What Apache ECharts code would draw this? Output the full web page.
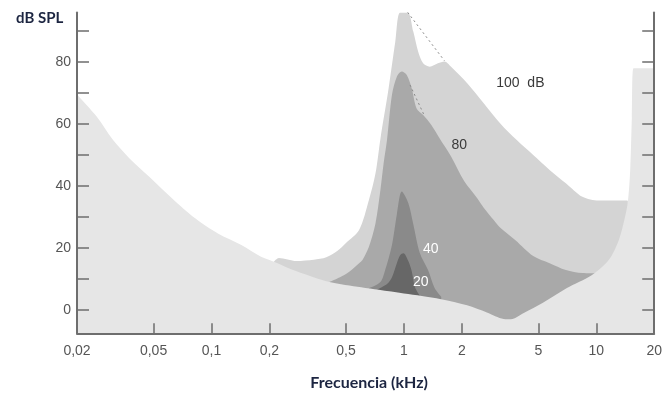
<!DOCTYPE html>
<html>
<head>
<meta charset="utf-8">
<script src="https://cdn.jsdelivr.net/npm/echarts@6/dist/echarts.min.js"></script>
<style>
  html, body { margin: 0; padding: 0; background: #ffffff; }
  #chart { width: 665px; height: 397px; }
</style>
</head>
<body>
<div id="chart"></div>
<script>
// ---- Data (frequency in kHz, level in dB SPL) ----
const xTickFreqs = [0.02, 0.05, 0.1, 0.2, 0.5, 1, 2, 5, 10, 20];
const xTickLabels = ['0,02', '0,05', '0,1', '0,2', '0,5', '1', '2', '5', '10', '20'];
const yLabelValues = [0, 20, 40, 60, 80];
const yTickValues = [0, 10, 20, 30, 40, 50, 60, 70, 80, 90];

// Threshold in quiet
const thresholdFreq = [0.02, 0.0253, 0.0308, 0.0375, 0.0475, 0.0625, 0.0823, 0.108, 0.143, 0.181, 0.211, 0.277, 0.41, 0.6, 0.74, 1.0, 1.24, 1.56, 2.13, 2.7, 3.3, 3.6, 4.2, 5.28, 7.0, 9.5, 11.6, 13.1, 14.1, 14.6, 15.0, 15.3, 15.6, 20];
const thresholdDb   = [69.5, 62.4, 54.8, 48.9, 43.0, 36.0, 29.6, 24.7, 21.0, 17.2, 15.6, 12.5, 9.0, 7.3, 6.5, 5.3, 4.5, 3.5, 1.5, -0.8, -2.9, -3.0, -1.0, 2.3, 7.0, 11.3, 16.1, 22.6, 30.0, 35.0, 45.0, 62.0, 78.0, 78.0];

// Masking patterns of a 1 kHz masker
const mask100Freq = [0.211, 0.224, 0.277, 0.34, 0.395, 0.45, 0.5, 0.585, 0.658, 0.712, 0.755, 0.833, 0.902, 0.956, 1.047, 1.119, 1.187, 1.259, 1.362, 1.502, 1.625, 1.759, 2.139, 2.6, 3.17, 3.86, 4.7, 5.72, 6.95, 8.47, 10.3, 14.5, 14.6];
const mask100Db   = [15.6, 16.8, 15.8, 16.2, 17.0, 19.0, 21.6, 25.8, 35.5, 44.1, 55.2, 71.5, 86.5, 96.0, 96.0, 89.8, 83.3, 79.6, 78.5, 79.6, 80.2, 78.5, 73.1, 66.7, 60.2, 54.8, 50.0, 45.2, 40.9, 36.5, 35.3, 35.3, 35.0];

const mask80Freq = [0.41, 0.5, 0.585, 0.609, 0.658, 0.712, 0.755, 0.785, 0.817, 0.867, 0.92, 0.975, 1.035, 1.098, 1.164, 1.259, 1.389, 1.532, 1.759, 2.06, 2.41, 2.6, 2.93, 3.17, 3.8, 4.7, 5.72, 6.95, 8.47, 9.9];
const mask80Db   = [9.0, 11.6, 15.1, 16.1, 20.4, 28.0, 38.7, 47.4, 54.8, 69.4, 75.3, 76.9, 75.8, 71.5, 65.0, 62.9, 59.7, 55.4, 49.5, 41.5, 36.0, 33.0, 29.0, 26.5, 22.5, 17.4, 15.1, 12.9, 11.9, 11.8];

const mask40Freq = [0.658, 0.755, 0.8, 0.867, 0.92, 0.975, 1.054, 1.119, 1.21, 1.335, 1.444, 1.563];
const mask40Db   = [7.0, 9.0, 13.0, 21.0, 31.0, 38.2, 34.5, 27.7, 18.4, 12.9, 7.1, 4.3];

const mask20Freq = [0.727, 0.82, 0.867, 0.92, 0.956, 0.994, 1.054, 1.098, 1.141, 1.21];
const mask20Db   = [6.6, 8.5, 10.6, 15.2, 17.7, 18.3, 15.8, 12.6, 7.4, 4.6];

// Dotted guide lines
const guide100Freq = [1.047, 1.625];
const guide100Db   = [96.0, 80.4];
const guide80Freq  = [1.076, 1.284];
const guide80Db    = [72.6, 62.4];

// Curve labels
const curveLabels = ['100  dB', '80', '40', '20'];
const curveLabelFreq = [4.03, 1.94, 1.378, 1.224];
const curveLabelDb = [73.3, 53.2, 19.7, 9.0];

// ---- Build ----
const lg = v => Math.log10(v);
const pts = (fs, ds) => fs.map((f, i) => [lg(f), ds[i]]);

function labelFor(v) {
  let best = 0, bd = Infinity;
  xTickFreqs.forEach((f, i) => { const d = Math.abs(lg(f) - v); if (d < bd) { bd = d; best = i; } });
  return xTickLabels[best];
}

const axisColor = '#6e6e6e';
const labelFont = 'Liberation Sans, Arial, sans-serif';

function areaSeries(name, data, color) {
  return {
    name, type: 'line', data, symbol: 'none', showSymbol: false, smooth: 0.3,
    lineStyle: { width: 0, opacity: 0 }, areaStyle: { color, opacity: 1, origin: 'start' },
    itemStyle: { color }, emphasis: { disabled: true },
    silent: true, animation: false, z: 2
  };
}
function guideSeries(name, data) {
  return {
    name, type: 'line', data, symbol: 'none', showSymbol: false,
    lineStyle: { width: 1, color: '#8a8a8a', type: [2, 3] },
    emphasis: { disabled: true }, silent: true, animation: false, z: 3
  };
}

const chart = echarts.init(document.getElementById('chart'), null, { renderer: 'canvas' });
chart.setOption({
  backgroundColor: '#ffffff',
  animation: false,
  title: {
    text: 'dB SPL', left: 11, top: 6,
    textStyle: { fontFamily: 'Lato, sans-serif', fontWeight: 'bold', fontSize: 15, color: '#1c2541' }
  },
  grid: { left: 77, right: 2, top: 12.4, bottom: 63.75, containLabel: false },
  xAxis: {
    type: 'value', min: lg(0.02), max: lg(20), z: 10,
    name: 'Frecuencia (kHz)', nameLocation: 'middle', nameGap: 42,
    nameTextStyle: { fontFamily: 'Lato, sans-serif', fontWeight: 'bold', fontSize: 16, color: '#1c2541', padding: [0, 0, 0, 7] },
    axisLine: { show: true, onZero: false, lineStyle: { color: axisColor, width: 2 } },
    axisTick: { show: true, inside: true, length: 10, lineStyle: { color: axisColor, width: 1.5 },
      customValues: xTickFreqs.slice(1, -1).map(lg) },
    axisLabel: { show: true, margin: 11, color: '#555555', fontFamily: labelFont, fontSize: 14,
      customValues: xTickFreqs.map(lg), formatter: v => labelFor(v) },
    splitLine: { show: false }
  },
  yAxis: [{
    type: 'value', min: -7.5, max: 96, position: 'left', z: 10,
    axisLine: { show: true, onZero: false, lineStyle: { color: axisColor, width: 2 } },
    axisTick: { show: true, inside: true, length: 12, lineStyle: { color: axisColor, width: 1.5 }, customValues: yTickValues },
    axisLabel: { show: true, margin: 6, color: '#555555', fontFamily: labelFont, fontSize: 14, customValues: yLabelValues },
    splitLine: { show: false }
  }, {
    type: 'value', min: -7.5, max: 96, position: 'right', z: 10,
    axisLine: { show: true, onZero: false, lineStyle: { color: axisColor, width: 2 } },
    axisTick: { show: true, inside: true, length: 12, lineStyle: { color: axisColor, width: 1.5 }, customValues: yTickValues },
    axisLabel: { show: false },
    splitLine: { show: false }
  }],
  series: [
    areaSeries('100 dB', pts(mask100Freq, mask100Db), '#d4d4d4'),
    areaSeries('80 dB', pts(mask80Freq, mask80Db), '#a9a9a9'),
    areaSeries('40 dB', pts(mask40Freq, mask40Db), '#8a8a8a'),
    areaSeries('20 dB', pts(mask20Freq, mask20Db), '#676767'),
    areaSeries('Umbral', pts(thresholdFreq, thresholdDb), '#e6e6e6'),
    guideSeries('g100', pts(guide100Freq, guide100Db)),
    guideSeries('g80', pts(guide80Freq, guide80Db))
  ]
});

// Curve labels placed through the chart's own coordinate conversion
const labelGraphics = curveLabels.map((t, i) => {
  const p = chart.convertToPixel({ xAxisIndex: 0, yAxisIndex: 0 }, [lg(curveLabelFreq[i]), curveLabelDb[i]]);
  return {
    type: 'text', x: p[0], y: p[1], z: 20, silent: true,
    style: {
      text: t, align: 'center', verticalAlign: 'middle',
      font: '14px Liberation Sans, Arial, sans-serif',
      fill: i >= 2 ? '#ffffff' : '#3a3a3a'
    }
  };
});
chart.setOption({ graphic: labelGraphics });
</script>
</body>
</html>
